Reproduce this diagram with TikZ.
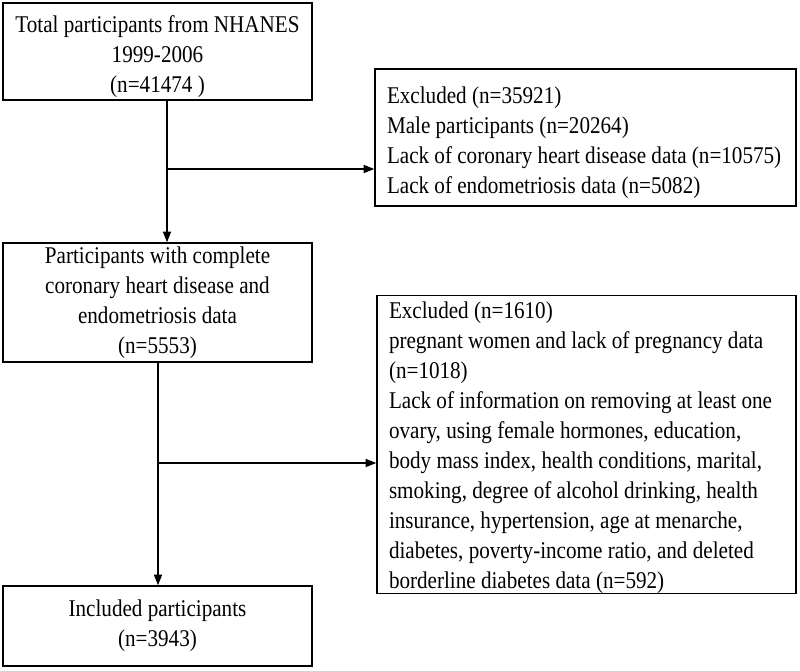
\documentclass[tikz,border=0pt]{standalone}
\usepackage{fontspec}
\setmainfont{Liberation Serif}[FakeStretch=0.88]
\usetikzlibrary{arrows.meta}
\newcommand{\flowfont}{\fontsize{18}{22.5}\selectfont}
\newcommand{\topgap}[1]{\rule{0pt}{#1}}
\begin{document}
\begin{tikzpicture}[x=0.75pt,y=-0.75pt,
  box/.style={draw, line width=1.1pt, inner sep=0pt, align=center,
    font=\flowfont},
  exbox/.style={draw, line width=1.1pt, inner xsep=9pt, inner ysep=0pt, align=flush left,
    font=\flowfont},
  arr/.style={line width=1.1pt, -{Triangle[length=8pt,width=6pt]}}]
\useasboundingbox (0,0) rectangle (800,671);
\node[box, minimum width=231.75pt, minimum height=72.75pt] (b1) at (157.5,51.5)
  {\topgap{20pt}Total participants from NHANES\\1999-2006\\(n=41474 )};
\node[box, minimum width=231.75pt, minimum height=89.25pt] (b2) at (157.5,302.5)
  {Participants with complete\\coronary heart disease and\\endometriosis data\\(n=5553)};
\node[box, minimum width=231.75pt, minimum height=60pt] (b3) at (157.5,626)
  {Included participants\\(n=3943)};
\node[exbox, text width=297.75pt, minimum height=102.75pt] (r1) at (585.5,137.5)
  {\mbox{\topgap{20pt}Excluded (n=35921)}\\
   \mbox{Male participants (n=20264)}\\
   \mbox{Lack of coronary heart disease data (n=10575)}\\
   \mbox{Lack of endometriosis data (n=5082)}};
\node[exbox, text width=296.25pt, minimum height=222.75pt] (r2) at (586.5,444.5)
  {\mbox{\topgap{17pt}Excluded (n=1610)}\\
   \mbox{pregnant women and lack of pregnancy data}\\
   \mbox{(n=1018)}\\
   \mbox{Lack of information on removing at least one}\\
   \mbox{ovary, using female hormones, education,}\\
   \mbox{body mass index, health conditions, marital,}\\
   \mbox{smoking, degree of alcohol drinking, health}\\
   \mbox{insurance, hypertension, age at menarche,}\\
   \mbox{diabetes, poverty-income ratio, and deleted}\\
   \mbox{borderline diabetes data (n=592)}};
\coordinate (j1) at (167,169);
\coordinate (j2) at (158,463);
\draw[arr] (b1.south -| j1) -- (b2.north -| j1);
\draw[arr] (j1) -- (j1 -| r1.west);
\draw[arr] (b2.south -| j2) -- (b3.north -| j2);
\draw[arr] (j2) -- (j2 -| r2.west);
\end{tikzpicture}
\end{document}
